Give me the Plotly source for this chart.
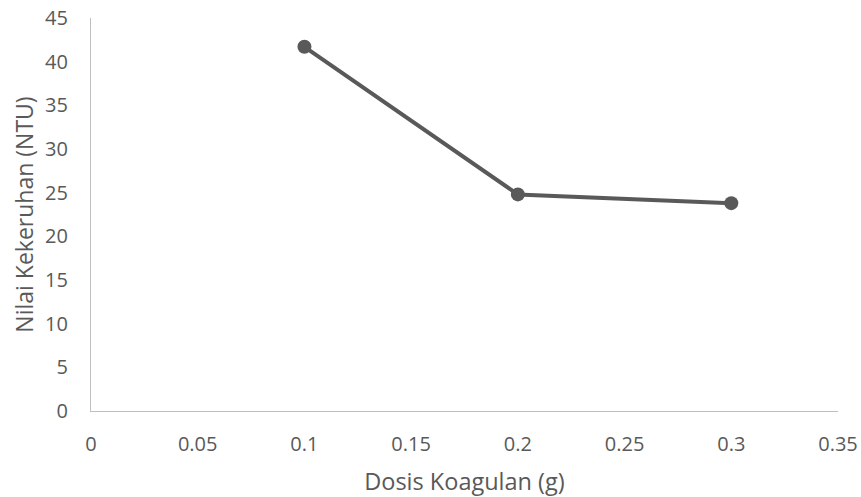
import plotly.graph_objects as go

dosis = [0.1, 0.2, 0.3]
kekeruhan = [41.7, 24.8, 23.8]

x_ticks = [0, 0.05, 0.1, 0.15, 0.2, 0.25, 0.3, 0.35]
x_ticklabels = ["0", "0.05", "0.1", "0.15", "0.2", "0.25", "0.3", "0.35"]
y_ticks = [0, 5, 10, 15, 20, 25, 30, 35, 40, 45]

fig = go.Figure()
fig.add_trace(go.Scatter(
    x=dosis, y=kekeruhan, mode="lines+markers",
    line=dict(color="#595959", width=4),
    marker=dict(color="#595959", size=14),
    showlegend=False,
    cliponaxis=False,
))

font_fam = "Open Sans, sans-serif"
fig.update_layout(
    width=861, height=497,
    margin=dict(l=91, r=23, t=18, b=86),
    paper_bgcolor="white", plot_bgcolor="white",
    font=dict(family=font_fam, size=20, color="#595959"),
    xaxis=dict(
        range=[0, 0.35], tickvals=x_ticks, ticktext=x_ticklabels,
        showgrid=False, zeroline=False, showline=True, automargin=False,
        linecolor="#bfbfbf", linewidth=1.3, ticks="",
        ticklabelstandoff=15, ticklabeloverflow="allow",
        title=dict(text="Dosis Koagulan (g)", font=dict(size=23.5), standoff=28),
    ),
    yaxis=dict(
        range=[0, 45], tickvals=y_ticks,
        showgrid=False, zeroline=False, showline=True, automargin=False,
        linecolor="#bfbfbf", linewidth=1.3, ticks="",
        ticklabelstandoff=18, ticklabeloverflow="allow",
        title=dict(text="Nilai Kekeruhan (NTU)", font=dict(size=23), standoff=4),
    ),
)

fig.write_html(
    "out.html",
    config={"displayModeBar": False},
    post_script="document.body.style.margin='0';document.body.style.overflow='hidden';",
)
